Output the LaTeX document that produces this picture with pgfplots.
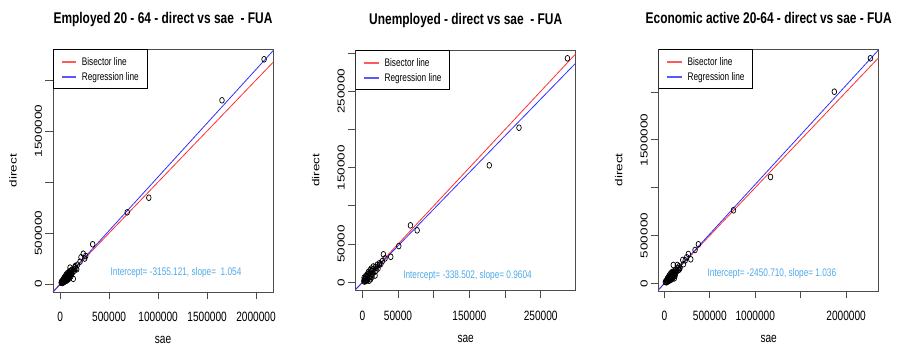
\documentclass[border=0pt]{standalone}
\usepackage{graphicx}
\usepackage{fontspec}
\setmainfont{Liberation Sans}[FakeStretch=0.75]
\newfontfamily\plainsans{Liberation Sans}
\newfontfamily\titlefont{Liberation Sans}[FakeStretch=0.77]
\usepackage{pgfplots}
\pgfplotsset{compat=1.18}
\definecolor{txtblue}{HTML}{4FA8E8}
\definecolor{lred}{HTML}{FF3030}
\definecolor{lblue}{HTML}{3030FF}
\newcommand\tl{\fontsize{13.5}{15}\selectfont}
\newcommand\yl[1]{\scalebox{1}[0.75]{\plainsans\fontsize{13.5}{15}\selectfont #1}}
\newcommand\tit[1]{{\titlefont\bfseries\fontsize{15.5}{17}\selectfont #1}}
\newcommand\rlegend{%
  \coordinate (tl) at (rel axis cs:0,1);
  \filldraw[fill=white, draw=black, line width=0.9pt] (tl) rectangle ([shift={(94pt,-39pt)}]tl);
  \fill[fill=lred!80!white] ([shift={(8.7pt,-12pt)}]tl) rectangle ([shift={(23pt,-14pt)}]tl);
  \fill[fill=lblue!80!white] ([shift={(8.7pt,-27pt)}]tl) rectangle ([shift={(23pt,-29pt)}]tl);
  \node[anchor=base west, inner sep=0pt, font=\fontsize{11}{13}\selectfont] at ([shift={(28.7pt,-16.5pt)}]tl) {Bisector line};
  \node[anchor=base west, inner sep=0pt, font=\fontsize{11}{13}\selectfont] at ([shift={(28.7pt,-31.5pt)}]tl) {Regression line};}
\pgfplotsset{
  rplot/.style={
    scale only axis, width=220pt,
    scaled ticks=false,
    axis line style={draw=black!70, line width=0.8pt},
    every tick/.style={draw=black!70, line width=0.8pt},
    tick align=outside, major tick length=7.5pt,
    xtick pos=left, ytick pos=left,
    xticklabel style={font=\tl, yshift=-9pt},
    yticklabel style={rotate=90, anchor=south},
    title style={at={(0.5,1)}, anchor=base, yshift=19pt},
    xlabel style={at={(axis description cs:0.5,0)}, anchor=base, yshift=-52pt, font=\tl},
    ylabel style={at={(axis description cs:-0.165,0.5)}, anchor=base, rotate=0},
    clip=true,
  },
  pts/.style={only marks, mark=o, mark size=2.9pt, black,
    mark options={xscale=0.8, line width=0.7pt}},
}
\begin{document}
\begin{tikzpicture}[x=1pt,y=1pt]
\useasboundingbox (0,0) rectangle (899,347);
% ---------------- Panel 1 ----------------
\begin{axis}[rplot, at={(53pt,55pt)}, anchor=south west, height=243pt,
  xmin=-73000, xmax=2173000, ymin=-78000, ymax=2304000,
  xtick={0,500000,1000000,1500000,2000000},
  xticklabels={0,500000,1000000,1500000,2000000},
  ytick={0,500000,1000000,1500000,2000000},
  yticklabels={\yl{0},\yl{500000},{},\yl{1500000},{}},
  title={\tit{Employed 20 - 64 - direct vs sae\ \ - FUA}},
  xlabel={sae}, ylabel={\yl{direct}}]
\addplot[pts] table {
x y
2082000 2203000
1652000 1801000
905000 846000
685000 703000
332000 389600
236000 297000
213000 262000
261000 275000
203000 219000
250000 250000
178000 190000
155000 177000
101000 161000
169000 144000
118000 95000
67000 78000
49000 45000
134000 51000
16000 28000
20000 15000
25000 30000
30000 22000
35000 40000
40000 33000
45000 52000
50000 38000
55000 60000
60000 48000
65000 70000
70000 55000
75000 85000
80000 66000
85000 95000
90000 80000
95000 110000
100000 90000
105000 120000
110000 100000
115000 130000
120000 108000
60000 90000
50000 75000
40000 60000
70000 100000
90000 60000
100000 70000
110000 75000
130000 120000
140000 150000
145000 130000
150000 165000
160000 150000
30000 45000
15000 20000
22000 10000
10000 12000
85000 50000
75000 40000
95000 125000
120000 140000
55000 30000
45000 25000
65000 35000
36000 18000
80000 110000
};
\addplot[lred, line width=0.8pt] coordinates {(-100000,-100000) (2300000,2300000)};
\addplot[lblue, line width=0.8pt] coordinates {(-100000,-108555) (2300000,2420045)};
\node[txtblue, font=\fontsize{11}{13}\selectfont] at (axis cs:1182700,108400) {Intercept= -3155.121, slope=\ \ 1.054};
\rlegend
\end{axis}
% ---------------- Panel 2 ----------------
\begin{axis}[rplot, at={(355.7pt,56.3pt)}, anchor=south west, height=240.7pt,
  xmin=-9300, xmax=299000, ymin=-11000, ymax=304000,
  xtick={0,50000,100000,150000,200000,250000,300000},
  xticklabels={0,50000,{},150000,{},250000,{}},
  ytick={0,50000,100000,150000,200000,250000,300000},
  yticklabels={\yl{0},\yl{50000},{},\yl{150000},{},\yl{250000},{}},
  title={\tit{Unemployed - direct vs sae\ \ - FUA}},
  xlabel={sae}, ylabel={\yl{direct}}]
\addplot[pts] table {
x y
287400 293100
219500 202300
177900 153100
67400 74500
76800 68000
51100 47400
29500 36600
39800 33400
28100 27800
31800 31300
23800 22900
15400 20700
17800 8800
10800 16000
2000 1500
3000 4000
4000 2500
5000 6000
6000 3500
7000 8000
8000 5000
9000 11000
10000 7000
11000 13000
12000 9000
13000 15000
14000 11000
15000 17000
16000 13000
4500 8000
6500 10000
8500 13500
11500 4000
13500 7000
3500 1000
5500 2000
7500 3000
9500 2000
12500 18000
18000 20000
20000 19000
21000 23000
19000 15000
22000 18000
2500 6000
24000 25000
26000 24000
};
\addplot[lred, line width=0.8pt] coordinates {(-20000,-20000) (320000,320000)};
\addplot[lblue, line width=0.8pt] coordinates {(-20000,-19546.5) (320000,306989.5)};
\node[txtblue, font=\fontsize{11}{13}\selectfont] at (axis cs:147400,9100) {Intercept= -338.502, slope= 0.9604};
\rlegend
\end{axis}
% ---------------- Panel 3 ----------------
\begin{axis}[rplot, at={(658.7pt,56pt)}, anchor=south west, height=242pt,
  xmin=-62000, xmax=2359000, ymin=-80000, ymax=2449000,
  xtick={0,500000,1000000,1500000,2000000},
  xticklabels={0,500000,1000000,{},2000000},
  ytick={0,500000,1000000,1500000,2000000},
  yticklabels={\yl{0},\yl{500000},{},\yl{1500000},{}},
  title={\tit{Economic active 20-64 - direct vs sae - FUA}},
  xlabel={sae}, ylabel={\yl{direct}}]
\addplot[pts] table {
x y
2267600 2351800
1870700 2002800
1168400 1111400
760500 763400
374600 408100
338000 348500
264300 306700
246700 272300
290800 251300
202600 244100
143000 191800
99000 191800
165000 146800
110000 52700
22000 17000
27000 32000
33000 24000
38000 43000
43000 36000
49000 56000
54000 41000
59000 65000
65000 52000
70000 76000
76000 59000
81000 92000
86000 71000
92000 103000
97000 86000
103000 119000
108000 97000
113000 130000
119000 108000
124000 140000
130000 117000
65000 97000
54000 81000
43000 65000
76000 108000
97000 65000
108000 76000
119000 81000
140000 130000
151000 162000
157000 140000
162000 178000
173000 162000
32000 49000
16000 22000
24000 11000
11000 13000
92000 54000
81000 43000
60000 32000
48000 27000
70000 38000
39000 19000
86000 119000
210000 200000
230000 240000
};
\addplot[lred, line width=0.8pt] coordinates {(-100000,-100000) (2500000,2500000)};
\addplot[lblue, line width=0.8pt] coordinates {(-100000,-106050.7) (2500000,2587549)};
\node[txtblue, font=\fontsize{11}{13}\selectfont] at (axis cs:1183800,97750) {Intercept= -2450.710, slope= 1.036};
\rlegend
\end{axis}
\end{tikzpicture}
\end{document}
